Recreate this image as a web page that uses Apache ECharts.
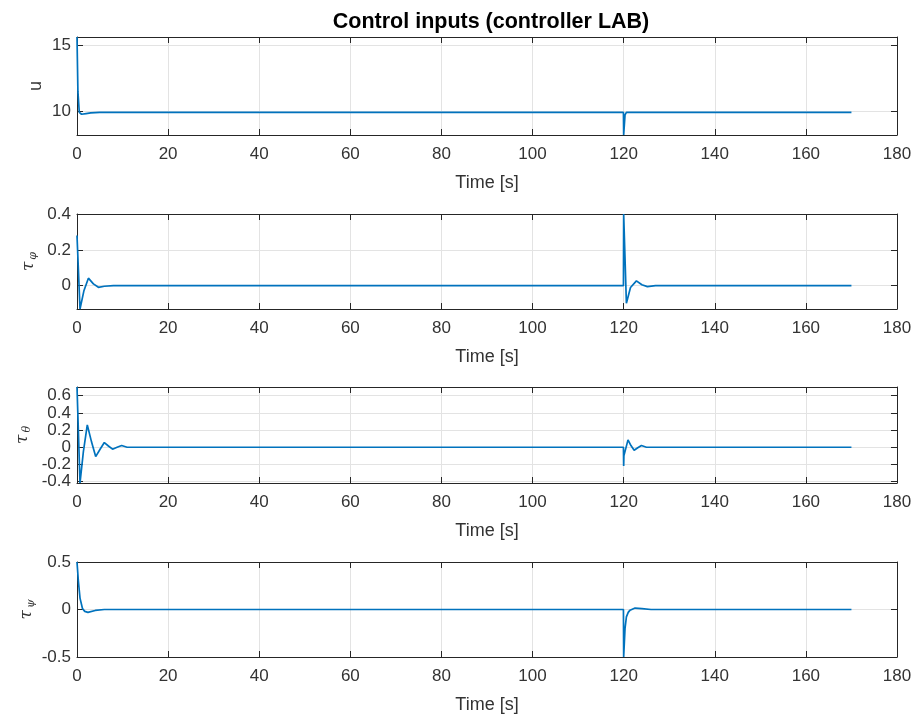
<!DOCTYPE html>
<html>
<head>
<meta charset="utf-8">
<script src="https://cdn.jsdelivr.net/npm/echarts@6/dist/echarts.min.js"></script>
<style>html,body{margin:0;padding:0;background:#fff;}#c{width:919px;height:717px;}</style>
</head>
<body>
<div id="c"></div>
<script>
// ---- data ----
const title = 'Control inputs (controller LAB)';
const xTicks = [0, 20, 40, 60, 80, 100, 120, 140, 160, 180];

const uT = [0, 0.2, 0.5, 1, 2, 3, 5, 119.95, 120, 120.3, 120.6, 170];
const uV = [15.67, 11.5, 9.9, 9.75, 9.8, 9.85, 9.9, 9.9, 8.16, 9.7, 9.9, 9.9];
const uTicks = [10, 15];

const phiT = [0, 0.66, 1.5, 2.5, 3.6, 4.7, 6, 8, 119.95, 120, 120.6, 121.5, 122.8, 124, 125.2, 127, 170];
const phiV = [0.28, -0.13, -0.03, 0.042, 0.01, -0.009, -0.003, 0, 0, 0.4, -0.098, -0.01, 0.027, 0.005, -0.005, 0, 0];
const phiTicks = [0, 0.2, 0.4];

const thT = [0, 0.66, 1.4, 2.26, 3.2, 4.1, 5.1, 6.0, 6.9, 7.8, 8.8, 9.8, 11, 119.95, 120, 120.05, 120.95, 121.6, 122.3, 123.1, 123.9, 125, 170];
const thV = [0.7, -0.415, -0.05, 0.26, 0.06, -0.108, -0.02, 0.055, 0.015, -0.022, 0, 0.02, 0, 0, -0.217, -0.1, 0.086, 0.02, -0.034, -0.005, 0.02, 0, 0];
const thTicks = [-0.4, -0.2, 0, 0.2, 0.4, 0.6];

const psT = [0, 0.3, 0.66, 1.2, 1.7, 2.4, 4, 6, 119.95, 120, 120.3, 120.6, 121, 121.4, 122.5, 124, 126, 170];
const psV = [0.5, 0.3, 0.12, 0.01, -0.02, -0.03, -0.01, 0, 0, -0.5, -0.2, -0.078, -0.03, -0.007, 0.015, 0.01, 0, 0];
const psTicks = [-0.5, 0, 0.5];

const panels = [
  {T: uT, V: uV, ticks: uTicks, min: 8.16, max: 15.67, name: '{r|u}', gap: 32, top: 37, height: 98},
  {T: phiT, V: phiV, ticks: phiTicks, min: -0.13, max: 0.4, name: '{t|τ}{s|φ}', gap: 38, top: 214, height: 95},
  {T: thT, V: thV, ticks: thTicks, min: -0.415, max: 0.7, name: '{t|τ}{s|θ}', gap: 44, top: 387, height: 96},
  {T: psT, V: psV, ticks: psTicks, min: -0.5, max: 0.5, name: '{t|τ}{s|ψ}', gap: 40, top: 562, height: 95}
];

const FONT = "'Liberation Sans', Arial, Helvetica, sans-serif";
const DARK = '#262626';
const LBL = '#333333';
const GRIDC = '#e3e3e3';

const grid = [], xAxis = [], yAxis = [], series = [];
panels.forEach((p, i) => {
  grid.push({left: 77, right: 22, top: p.top, height: p.height, containLabel: false});
  xAxis.push({
    type: 'value', gridIndex: i, min: 0, max: 180, interval: 20, position: 'bottom',
    name: 'Time [s]', nameLocation: 'middle', nameGap: 39,
    nameTextStyle: {fontFamily: FONT, fontSize: 18, color: LBL},
    axisLine: {show: true, onZero: false, lineStyle: {color: DARK, width: 1}},
    axisTick: {show: true, inside: true, length: 6, lineStyle: {color: DARK}},
    axisLabel: {fontFamily: FONT, fontSize: 17, color: LBL, margin: 11},
    splitLine: {show: true, lineStyle: {color: GRIDC, width: 1}}
  });
  xAxis.push({
    type: 'value', gridIndex: i, min: 0, max: 180, interval: 20, position: 'top',
    axisLine: {show: true, onZero: false, lineStyle: {color: DARK, width: 1}},
    axisTick: {show: true, inside: true, length: 6, lineStyle: {color: DARK}},
    axisLabel: {show: false}, splitLine: {show: false}
  });
  yAxis.push({
    type: 'value', gridIndex: i, min: p.min, max: p.max, position: 'left',
    name: p.name, nameLocation: 'middle', nameGap: p.gap, nameRotate: 90, nameMoveOverlap: false,
    nameTextStyle: {
      color: LBL,
      rich: {
        r: {fontFamily: FONT, fontSize: 18, color: LBL},
        t: {fontFamily: "'DejaVu Serif', serif", fontStyle: 'italic', fontSize: 17, color: LBL},
        s: {fontFamily: "'DejaVu Serif', serif", fontStyle: 'italic', fontSize: 11, color: LBL, padding: [10, 0, 0, 2]}
      }
    },
    axisLine: {show: true, onZero: false, lineStyle: {color: DARK, width: 1}},
    axisTick: {show: true, inside: true, length: 6, lineStyle: {color: DARK}, customValues: p.ticks},
    axisLabel: {fontFamily: FONT, fontSize: 17, color: LBL, margin: 6, customValues: p.ticks,
      formatter: v => String(Math.round(v * 10) / 10)},
    splitLine: {show: true, lineStyle: {color: GRIDC, width: 1}}
  });
  yAxis.push({
    type: 'value', gridIndex: i, min: p.min, max: p.max, position: 'right',
    axisLine: {show: true, onZero: false, lineStyle: {color: DARK, width: 1}},
    axisTick: {show: true, inside: true, length: 6, lineStyle: {color: DARK}, customValues: p.ticks},
    axisLabel: {show: false}, splitLine: {show: false}
  });
  series.push({
    type: 'line', xAxisIndex: i * 2, yAxisIndex: i * 2, showSymbol: false, symbol: 'none',
    data: p.T.map((t, k) => [t, p.V[k]]),
    lineStyle: {color: '#0072BD', width: 1.7}, animation: false, clip: true
  });
});

const chart = echarts.init(document.getElementById('c'), null, {renderer: 'canvas'});
chart.setOption({
  backgroundColor: '#ffffff',
  animation: false,
  title: {text: title, left: 486, textAlign: 'center', top: 6,
    textStyle: {fontFamily: FONT, fontWeight: 'bold', fontSize: 21.5, color: '#000'}},
  grid, xAxis, yAxis, series
});
</script>
</body>
</html>
